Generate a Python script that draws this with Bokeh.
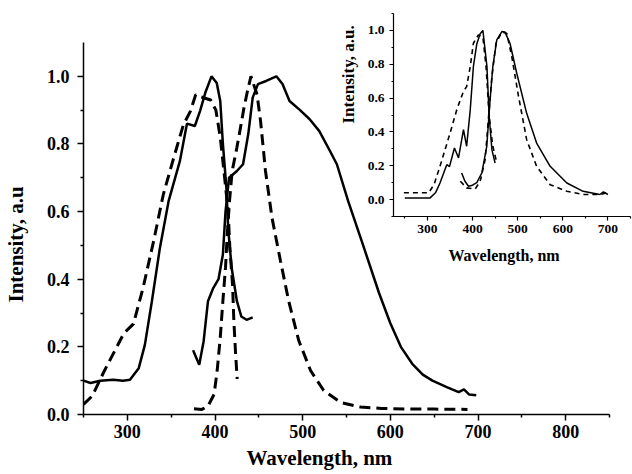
from bokeh.plotting import figure
from bokeh.models import Range1d, FixedTicker, Column, Title
from bokeh.embed import file_html
from bokeh.resources import INLINE

# ---------------- data: main panel ----------------
abs_solid_x = [250, 258, 269, 284, 295, 303, 313, 320, 328, 337, 347, 360, 368, 377, 383, 389, 396, 402, 406, 409, 413, 415, 419, 425, 430, 436, 443]
abs_solid_y = [0.100, 0.093, 0.100, 0.103, 0.100, 0.103, 0.137, 0.206, 0.335, 0.490, 0.630, 0.750, 0.860, 0.853, 0.898, 0.952, 1.000, 0.980, 0.927, 0.800, 0.670, 0.552, 0.433, 0.335, 0.290, 0.280, 0.287]

em_solid_x = [375, 382, 387, 392, 398, 404, 409, 412, 416, 425, 432, 438, 443, 449, 459, 470, 477, 485, 497, 508, 519, 531, 539, 552, 569, 587, 600, 612, 625, 637, 648, 665, 678, 684, 690, 698]
em_solid_y = [0.190, 0.147, 0.216, 0.335, 0.374, 0.400, 0.473, 0.600, 0.700, 0.720, 0.740, 0.830, 0.937, 0.977, 0.987, 1.000, 0.977, 0.927, 0.900, 0.873, 0.838, 0.780, 0.740, 0.630, 0.500, 0.360, 0.270, 0.200, 0.150, 0.118, 0.100, 0.080, 0.066, 0.074, 0.059, 0.057]

abs_dash_x = [250, 260, 273, 284, 296, 307, 318, 330, 341, 353, 364, 372, 378, 383, 395, 401, 406, 411, 415, 417, 420, 421.5, 423.4, 425.3]
abs_dash_y = [0.030, 0.055, 0.125, 0.180, 0.240, 0.268, 0.375, 0.513, 0.650, 0.760, 0.857, 0.897, 0.946, 0.940, 0.930, 0.900, 0.820, 0.700, 0.600, 0.490, 0.385, 0.277, 0.184, 0.105]

em_dash_x = [376, 385, 392, 399, 402.5, 406, 409, 412, 414, 416.5, 419.6, 425, 429, 433, 437, 441, 448, 452, 457.6, 465, 474.7, 484, 495.6, 509, 524, 543, 566, 590, 620, 650, 688]
em_dash_y = [0.017, 0.015, 0.025, 0.060, 0.130, 0.228, 0.336, 0.435, 0.533, 0.630, 0.720, 0.790, 0.847, 0.906, 0.956, 1.000, 0.946, 0.867, 0.720, 0.582, 0.454, 0.336, 0.218, 0.130, 0.071, 0.036, 0.022, 0.018, 0.016, 0.016, 0.015]

main_xticks = [300, 400, 500, 600, 700, 800]
main_xminor = [250, 350, 450, 550, 650, 750, 850]
main_yticks = [0.0, 0.2, 0.4, 0.6, 0.8, 1.0]
main_yminor = [0.1, 0.3, 0.5, 0.7, 0.9]
main_xtitle = "Wavelength, nm"
main_ytitle = "Intensity, a.u"

# ---------------- data: inset ----------------
ins_abs_solid_x = [250, 306, 318, 328, 343, 349, 360, 369, 380, 387, 395, 402, 409.5, 417, 423, 432, 437, 443, 450]
ins_abs_solid_y = [0.010, 0.010, 0.040, 0.098, 0.206, 0.195, 0.305, 0.246, 0.413, 0.315, 0.530, 0.787, 0.920, 0.980, 1.000, 0.786, 0.490, 0.295, 0.216]

ins_abs_dash_x = [248, 303, 315, 328, 350, 365, 380, 387, 395, 402, 413, 423, 430, 437, 445, 454]
ins_abs_dash_y = [0.040, 0.040, 0.090, 0.197, 0.390, 0.530, 0.640, 0.668, 0.786, 0.924, 0.973, 0.960, 0.786, 0.490, 0.315, 0.216]

ins_em_solid_x = [376, 383, 391, 400, 409.5, 420.6, 431.6, 439, 445, 453.8, 465, 472, 483, 498, 520, 542, 572, 609, 645, 682, 690, 700]
ins_em_solid_y = [0.157, 0.110, 0.079, 0.085, 0.100, 0.157, 0.315, 0.590, 0.786, 0.944, 0.993, 0.990, 0.924, 0.747, 0.510, 0.334, 0.197, 0.098, 0.049, 0.030, 0.045, 0.030]

ins_em_dash_x = [373, 387, 406, 417, 428, 435, 443, 452, 465, 476, 487, 502, 520, 542, 572, 609, 645, 682, 704]
ins_em_dash_y = [0.108, 0.069, 0.063, 0.108, 0.236, 0.470, 0.727, 0.924, 0.990, 0.983, 0.845, 0.610, 0.354, 0.197, 0.088, 0.049, 0.030, 0.030, 0.043]

ins_xticks = [300, 400, 500, 600, 700]
ins_xminor = [250, 350, 450, 550, 650, 750]
ins_yticks = [0.0, 0.2, 0.4, 0.6, 0.8, 1.0]
ins_yminor = [-0.1, 0.1, 0.3, 0.5, 0.7, 0.9, 1.1]
ins_xtitle = "Wavelength, nm"
ins_ytitle = "Intensity, a.u."

FONT = "Liberation Serif"


def style_axes(fig, tick_size, major_out, minor_out, line_w, xt_stand, yt_stand):
    for ax in (fig.xaxis[0], fig.yaxis[0]):
        ax.axis_line_color = "black"
        ax.axis_line_width = line_w
        ax.major_tick_line_color = "black"
        ax.minor_tick_line_color = "black"
        ax.major_tick_line_width = line_w
        ax.minor_tick_line_width = line_w
        ax.major_tick_in = 0
        ax.major_tick_out = major_out
        ax.minor_tick_in = 0
        ax.minor_tick_out = minor_out
        ax.major_label_text_font = FONT
        ax.major_label_text_font_style = "bold"
        ax.major_label_text_font_size = tick_size
        ax.major_label_text_color = "black"
    fig.xaxis[0].major_label_standoff = xt_stand
    fig.yaxis[0].major_label_standoff = yt_stand
    fig.xgrid.grid_line_color = None
    fig.ygrid.grid_line_color = None
    fig.outline_line_color = None


def side_title(fig, text, side, size, offset, standoff):
    fig.add_layout(Title(text=text, align="left", offset=offset, standoff=standoff,
                         text_font=FONT, text_font_style="bold", text_font_size=size,
                         text_color="black"), side)


# ---------------- main figure ----------------
p = figure(frame_width=526, frame_height=372, output_backend="svg", toolbar_location=None,
           x_range=Range1d(250, 850), y_range=Range1d(0, 1.1),
           min_border_left=100, min_border_right=6, min_border_top=42, min_border_bottom=60)
p.frame_align = False
p.background_fill_color = None
p.border_fill_color = "white"

p.line(abs_solid_x, abs_solid_y, line_color="black", line_width=2.5)
p.line(em_solid_x, em_solid_y, line_color="black", line_width=2.5)
p.line(abs_dash_x, abs_dash_y, line_color="black", line_width=3, line_dash="11 6")
p.line(em_dash_x, em_dash_y, line_color="black", line_width=3, line_dash="11 6")

p.xaxis[0].ticker = FixedTicker(ticks=main_xticks, minor_ticks=main_xminor)
p.yaxis[0].ticker = FixedTicker(ticks=main_yticks, minor_ticks=main_yminor)
p.yaxis[0].major_label_overrides = {t: f"{t:.1f}" for t in main_yticks}
style_axes(p, "18px", 6, 3, 1.5, 4, 8)
side_title(p, main_xtitle, "below", "21px", 163, 6)
side_title(p, main_ytitle, "left", "21px", 112, 32)

# ---------------- inset figure ----------------
ins = figure(frame_width=237, frame_height=203, output_backend="svg", toolbar_location=None,
             x_range=Range1d(225, 750), y_range=Range1d(-0.1, 1.1),
             min_border_left=80, min_border_right=2, min_border_top=13, min_border_bottom=56)
ins.frame_align = False
ins.background_fill_color = None
ins.border_fill_color = None

ins.line(ins_abs_solid_x, ins_abs_solid_y, line_color="black", line_width=1.5)
ins.line(ins_em_solid_x, ins_em_solid_y, line_color="black", line_width=1.5)
ins.line(ins_abs_dash_x, ins_abs_dash_y, line_color="black", line_width=1.6, line_dash="5 4")
ins.line(ins_em_dash_x, ins_em_dash_y, line_color="black", line_width=1.6, line_dash="5 4")

ins.xaxis[0].ticker = FixedTicker(ticks=ins_xticks, minor_ticks=ins_xminor)
ins.yaxis[0].ticker = FixedTicker(ticks=ins_yticks, minor_ticks=ins_yminor)
ins.yaxis[0].major_label_overrides = {t: f"{t:.1f}" for t in ins_yticks}
style_axes(ins, "13.5px", 4, 2, 1.2, 4, 5)
side_title(ins, ins_xtitle, "below", "16px", 55, 19)
side_title(ins, ins_ytitle, "left", "17px", 93, 14)

# main: frame left edge at x=83 (border 100 shifted by -17); inset frame at x=393
p.styles = {"position": "absolute", "left": "-17px", "top": "0px"}
ins.styles = {"position": "absolute", "left": "313px", "top": "0px"}

layout = Column(children=[p, ins], width=632, height=474,
                styles={"position": "relative", "overflow": "hidden"})

open("out.html", "w").write(file_html(layout, INLINE))
